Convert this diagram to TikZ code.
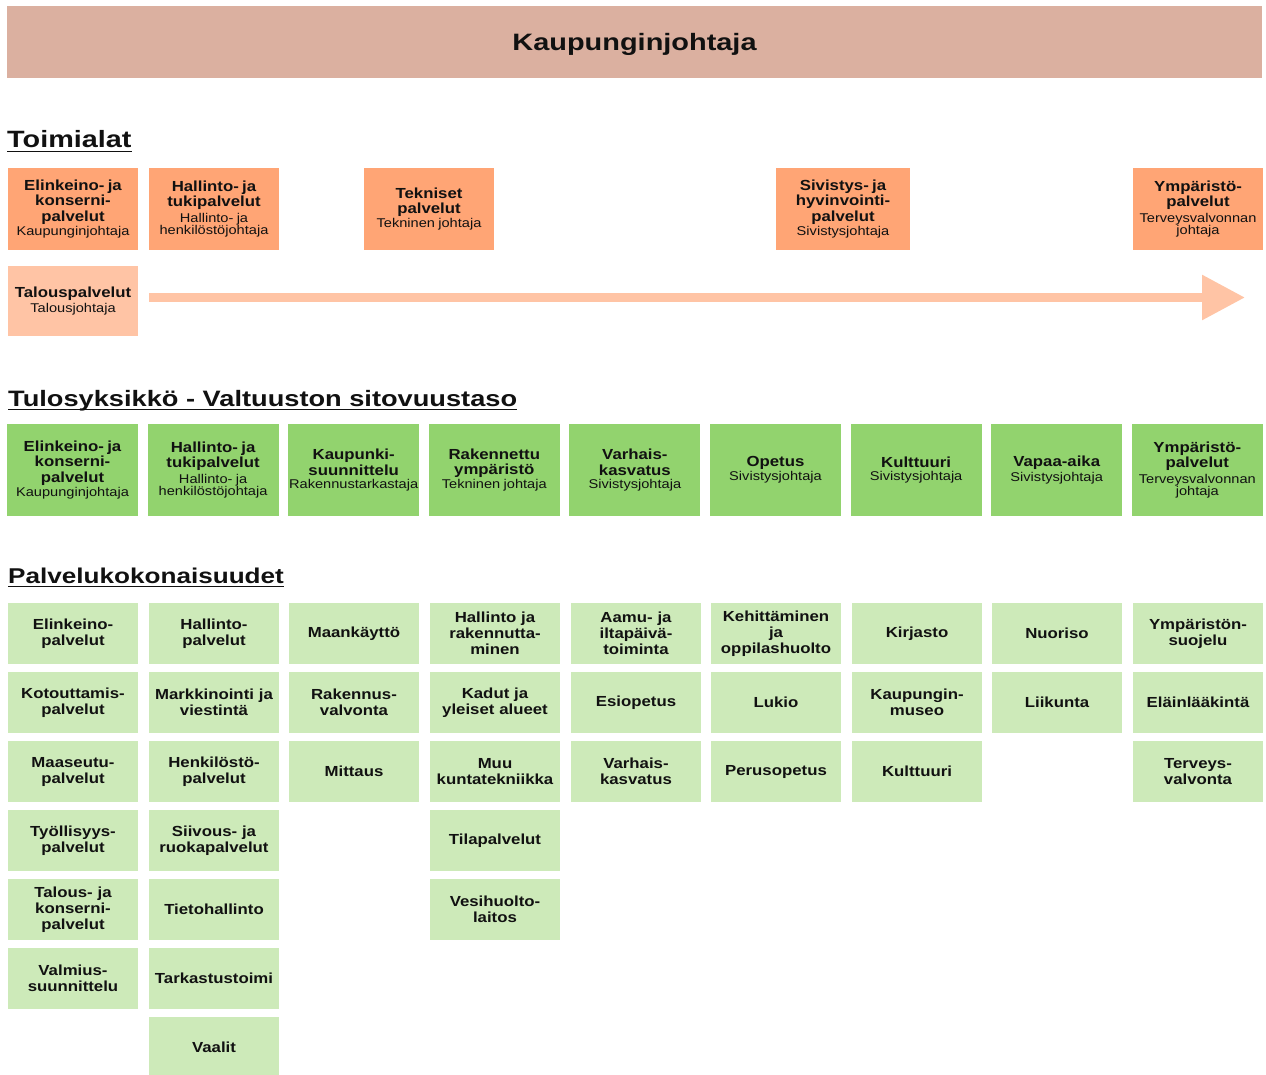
\documentclass[tikz,border=0pt]{standalone}
\usepackage{fontspec}
\setmainfont{Liberation Sans}[FakeStretch=1.15]
\newfontfamily\leveafont{Liberation Sans}[FakeStretch=1.22]
\usetikzlibrary{arrows.meta}
\definecolor{palkkivari}{HTML}{DBB0A0}
\definecolor{oranssi}{HTML}{FFA575}
\definecolor{lohi}{HTML}{FFC4A5}
\definecolor{vihrea}{HTML}{92D36E}
\definecolor{vaalea}{HTML}{CDEAB9}
\definecolor{teksti}{HTML}{111111}
\newcommand{\isofont}{\fontsize{14.6}{15.3}\selectfont\bfseries}
\newcommand{\pienifont}{\fontsize{12.7}{15.3}\selectfont\mdseries}
\hyphenpenalty=10000
\exhyphenpenalty=10000

\begin{document}
\begin{tikzpicture}[x=1pt,y=-1pt,
    laatikko/.style={inner sep=0pt, text width=130pt, align=center, text=teksti, minimum height=#1},
    ala/.style={laatikko=82pt, fill=oranssi, minimum width=130pt},
    tulos/.style={laatikko=92pt, fill=vihrea, minimum width=131pt},
    palvelu/.style={laatikko=61pt, fill=vaalea, minimum width=130pt,
      font=\fontsize{14.6}{16}\selectfont\bfseries},
    otsikko/.style={anchor=base west, inner sep=0pt, text=teksti,
      font=\leveafont\fontsize{#1}{26}\selectfont\bfseries},
    alleviiva/.style={line width=1.8pt, teksti}]
    \useasboundingbox (0,0) rectangle (1266,1075);

    % kaupunginjohtaja
    \node[fill=palkkivari, minimum width=1255pt, minimum height=72pt, inner sep=0pt] (palkki) at (634.5,42) {};
    \node[anchor=base, inner sep=0pt, text=teksti, font=\leveafont\fontsize{23.7}{28}\selectfont\bfseries]
      (johtaja) at ([yshift=-9pt]palkki.center) {Kaupunginjohtaja};

    % toimialat
    \node[otsikko=23.6] (toimialat) at (7,148) {Toimialat};
    \draw[alleviiva] ([yshift=-3.5pt]toimialat.base west) -- ([yshift=-3.5pt]toimialat.base east);

    \node[ala] (elinkeino) at (73,209)
      {\isofont Elinkeino- ja\\konserni-\\palvelut\\[1pt]\pienifont Kaupunginjohtaja};
    \node[ala] (hallinto) at (214,209)
      {\isofont Hallinto- ja\\tukipalvelut\\[1pt]\pienifont Hallinto- ja\\henkilöstöjohtaja};
    \node[ala] (tekniset) at (429,209)
      {\isofont Tekniset\\palvelut\\[1pt]\pienifont Tekninen johtaja};
    \node[ala, minimum width=134pt] (sivistys) at (843,209)
      {\isofont Sivistys- ja\\hyvinvointi-\\palvelut\\[1pt]\pienifont Sivistysjohtaja};
    \node[ala] (ymparisto) at (1198,209)
      {\isofont Ympäristö-\\palvelut\\[1pt]\pienifont Terveysvalvonnan\\johtaja};

    \node[laatikko=70pt, fill=lohi, minimum width=130pt] (talous) at (73,301)
      {\isofont Talouspalvelut\\[1pt]\pienifont Talousjohtaja};

    \coordinate (nuolialku) at (149,297.5);
    \coordinate (nuolikarki) at (1245,297.5);
    \draw[line width=9pt, lohi, -{Triangle[length=43pt,width=43pt]}] (nuolialku) -- (nuolikarki);

    % tulosyksikot
    \node[otsikko=22.3] (tulosotsikko) at (8,406) {Tulosyksikkö - Valtuuston sitovuustaso};
    \draw[alleviiva] ([yshift=-3.5pt]tulosotsikko.base west) -- ([yshift=-3.5pt]tulosotsikko.base east);

    \foreach \nimi/\vastaava [count=\i from 0] in {
        {Elinkeino- ja\\konserni-\\palvelut}/Kaupunginjohtaja,
        {Hallinto- ja\\tukipalvelut}/{Hallinto- ja\\henkilöstöjohtaja},
        {Kaupunki-\\suunnittelu}/Rakennustarkastaja,
        {Rakennettu\\ympäristö}/{Tekninen johtaja},
        {Varhais-\\kasvatus}/Sivistysjohtaja,
        Opetus/Sivistysjohtaja,
        Kulttuuri/Sivistysjohtaja,
        Vapaa-aika/Sivistysjohtaja,
        {Ympäristö-\\palvelut}/{Terveysvalvonnan\\johtaja}}
      \node[tulos] (tulos-\i) at ({72.5+140.6*\i},470) {\isofont\nimi\\[1pt]\pienifont\vastaava};

    % palvelukokonaisuudet
    \node[otsikko=21.4] (palveluotsikko) at (8,583) {Palvelukokonaisuudet};
    \draw[alleviiva] ([yshift=-3.5pt]palveluotsikko.base west) -- ([yshift=-3.5pt]palveluotsikko.base east);

    \foreach \teksti [count=\r from 0] in {{Elinkeino-\\palvelut}, {Kotouttamis-\\palvelut},
        {Maaseutu-\\palvelut}, {Työllisyys-\\palvelut}, {Talous- ja\\konserni-\\palvelut},
        {Valmius-\\suunnittelu}}
      \node[palvelu] (elinkeino-\r) at (73,{633.5+69*\r}) {\teksti};
    \foreach \teksti [count=\r from 0] in {{Hallinto-\\palvelut}, {Markkinointi ja\\viestintä},
        {Henkilöstö-\\palvelut}, {Siivous- ja\\ruokapalvelut}, Tietohallinto, Tarkastustoimi, Vaalit}
      \node[palvelu] (hallinto-\r) at (214,{633.5+69*\r}) {\teksti};
    \foreach \teksti [count=\r from 0] in {Maankäyttö, {Rakennus-\\valvonta}, Mittaus}
      \node[palvelu] (kaupunki-\r) at (354,{633.5+69*\r}) {\teksti};
    \foreach \teksti [count=\r from 0] in {{Hallinto ja\\rakennutta-\\minen}, {Kadut ja\\yleiset alueet},
        {Muu\\kuntatekniikka}, Tilapalvelut, {Vesihuolto-\\laitos}}
      \node[palvelu] (rakennettu-\r) at (495,{633.5+69*\r}) {\teksti};
    \foreach \teksti [count=\r from 0] in {{Aamu- ja\\iltapäivä-\\toiminta}, Esiopetus, {Varhais-\\kasvatus}}
      \node[palvelu] (varhais-\r) at (636,{633.5+69*\r}) {\teksti};
    \foreach \teksti [count=\r from 0] in {{Kehittäminen\\ja\\oppilashuolto}, Lukio, Perusopetus}
      \node[palvelu] (opetus-\r) at (776,{633.5+69*\r}) {\teksti};
    \foreach \teksti [count=\r from 0] in {Kirjasto, {Kaupungin-\\museo}, Kulttuuri}
      \node[palvelu] (kulttuuri-\r) at (917,{633.5+69*\r}) {\teksti};
    \foreach \teksti [count=\r from 0] in {Nuoriso, Liikunta}
      \node[palvelu] (vapaa-\r) at (1057,{633.5+69*\r}) {\teksti};
    \foreach \teksti [count=\r from 0] in {{Ympäristön-\\suojelu}, Eläinlääkintä, {Terveys-\\valvonta}}
      \node[palvelu] (ymparisto-\r) at (1198,{633.5+69*\r}) {\teksti};
\end{tikzpicture}
\end{document}
